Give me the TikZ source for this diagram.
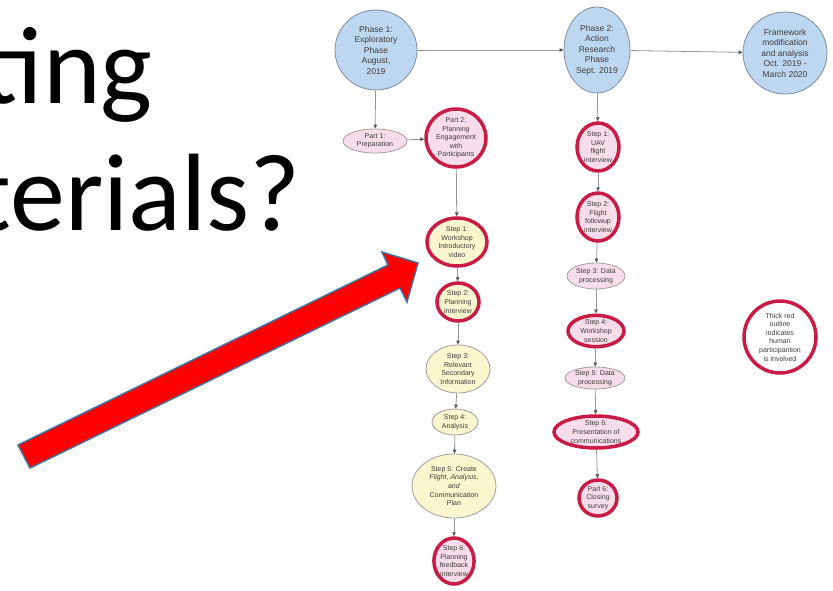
\documentclass[tikz,border=0pt]{standalone}
\usepackage{fontspec}
\setmainfont{Carlito}
\newfontfamily\diagfont{Liberation Sans}
\usepackage{tikz}
\usetikzlibrary{calc, positioning, arrows.meta, shapes}

\definecolor{phasefill}{RGB}{190,215,240}
\definecolor{phaseline}{RGB}{125,140,160}
\definecolor{pinkfill}{RGB}{247,221,233}
\definecolor{yellowfill}{RGB}{250,246,206}
\definecolor{thinline}{RGB}{165,155,160}
\definecolor{humanred}{RGB}{200,28,68}
\definecolor{edgegrey}{RGB}{150,150,150}
\definecolor{tipgrey}{RGB}{85,85,85}
\definecolor{textgrey}{RGB}{60,60,60}
\definecolor{arrowblue}{RGB}{65,113,156}

\begin{document}
\begin{tikzpicture}
		[x=1pt, y=-1pt,
		phase/.style={ellipse, draw=phaseline, fill=phasefill, line width=0.8pt, inner sep=0pt, align=center, text=textgrey, font=\diagfont\fontsize{8.5}{10.5}\selectfont},
		task/.style={ellipse, draw=thinline, line width=0.8pt, inner sep=0pt, align=center, text=textgrey, font=\diagfont\fontsize{7}{8.6}\selectfont},
		human/.style={task, draw=humanred, line width=3.5pt},
		flow/.style={draw=edgegrey, line width=0.8pt, -{Triangle[length=4pt, width=3.5pt, color=tipgrey]}},
		bigtext/.style={anchor=base east, inner sep=0pt, font=\fontsize{110}{127}\selectfont}]
	
		\useasboundingbox (0,0) rectangle (833,590);
		\clip (0,0) rectangle (833,590);
	
		% title text %
		\node[bigtext] (ting) at (153,103) {ting};
		\node[bigtext] (terials) at (301,230) {terials?};
	
		% nodes %
		\node[phase, minimum width=82, minimum height=80] (p1) at (376,50) {Phase 1:\\Exploratory\\Phase\\August,\\2019};
		\node[phase, minimum width=66, minimum height=86] (p2) at (597,50) {Phase 2:\\Action\\Research\\Phase\\Sept. 2019};
		\node[phase, minimum width=84, minimum height=82] (fw) at (785,53) {Framework\\modification\\and analysis\\Oct. 2019 -\\March 2020};
	
		\node[task, fill=pinkfill, minimum width=64, minimum height=24] (prep) at (375,141) {Part 1:\\Preparation};
		\node[human, fill=pinkfill, minimum width=60, minimum height=58] (plan) at (456,138) {Part 2:\\Planning\\Engagement\\with\\Participants};
		\node[human, fill=yellowfill, minimum width=60, minimum height=48] (ws) at (457,242) {Step 1:\\Workshop\\Introductory\\video};
		\node[human, fill=yellowfill, minimum width=42, minimum height=38] (pi) at (458,302) {Step 2:\\Planning\\interview};
		\node[task, fill=yellowfill, minimum width=64, minimum height=48] (sec) at (458,369) {Step 3:\\Relevant\\Secondary\\Information};
		\node[task, fill=yellowfill, minimum width=46, minimum height=26] (ana) at (455,422) {Step 4:\\Analysis};
		\node[task, fill=yellowfill, minimum width=84, minimum height=64] (cp) at (454,486) {Step 5: Create\\\textit{Flight}, \textit{Analysis},\\\textit{and}\\Communication\\Plan};
		\node[human, fill=pinkfill, minimum width=40, minimum height=46] (fb) at (454,561) {Step 6:\\Planning\\feedback\\interview};
	
		\node[human, fill=pinkfill, minimum width=42, minimum height=48] (uav) at (598,147) {Step 1:\\UAV\\flight\\interview};
		\node[human, fill=pinkfill, minimum width=42, minimum height=48] (fol) at (598,217) {Step 2:\\Flight\\followup\\interview};
		\node[task, fill=pinkfill, minimum width=58, minimum height=26] (dp1) at (596,276) {Step 3: Data\\processing};
		\node[human, fill=pinkfill, minimum width=56, minimum height=30] (wss) at (596,331) {Step 4:\\Workshop\\session};
		\node[task, fill=pinkfill, minimum width=60, minimum height=22] (dp2) at (595,378) {Step 5: Data\\processing};
		\node[human, fill=pinkfill, minimum width=84, minimum height=32] (pres) at (596,432) {Step 6:\\Presentation of\\communications};
		\node[human, fill=pinkfill, minimum width=38, minimum height=36] (surv) at (598,498) {Part 6:\\Closing\\survey};
	
		\node[human, fill=white, minimum width=72, minimum height=72] (key) at (780,337) {Thick red\\outline\\indicates\\human\\participantion\\is involved};
	
		% edges %
		\draw[flow] (p1) -- (p2);
		\draw[flow] (p2) -- (fw);
		\draw[flow] (p1) -- (prep);
		\draw[flow] (prep) -- (plan);
		\draw[flow] (plan) -- (ws);
		\draw[flow] (ws) -- (pi);
		\draw[flow] (pi) -- (sec);
		\draw[flow] (sec) -- (ana);
		\draw[flow] (ana) -- (cp);
		\draw[flow] (cp) -- (fb);
		\draw[flow] (p2) -- (uav);
		\draw[flow] (uav) -- (fol);
		\draw[flow] (fol) -- (dp1);
		\draw[flow] (dp1) -- (wss);
		\draw[flow] (wss) -- (dp2);
		\draw[flow] (dp2) -- (pres);
		\draw[flow] (pres) -- (surv);
	
		% red arrow %
		\coordinate (t1) at (18,445);
		\coordinate (s1) at (388,265);
		\coordinate (b1) at (382,252);
		\coordinate (tip) at (418,263);
		\coordinate (b2) at (407,302);
		\coordinate (s2) at (400,288);
		\coordinate (t2) at (30,468);
		\filldraw[fill=red, draw=arrowblue, line width=1.5pt, line join=miter] (t1) -- (s1) -- (b1) -- (tip) -- (b2) -- (s2) -- (t2) -- cycle;
	
\end{tikzpicture}
\end{document}
